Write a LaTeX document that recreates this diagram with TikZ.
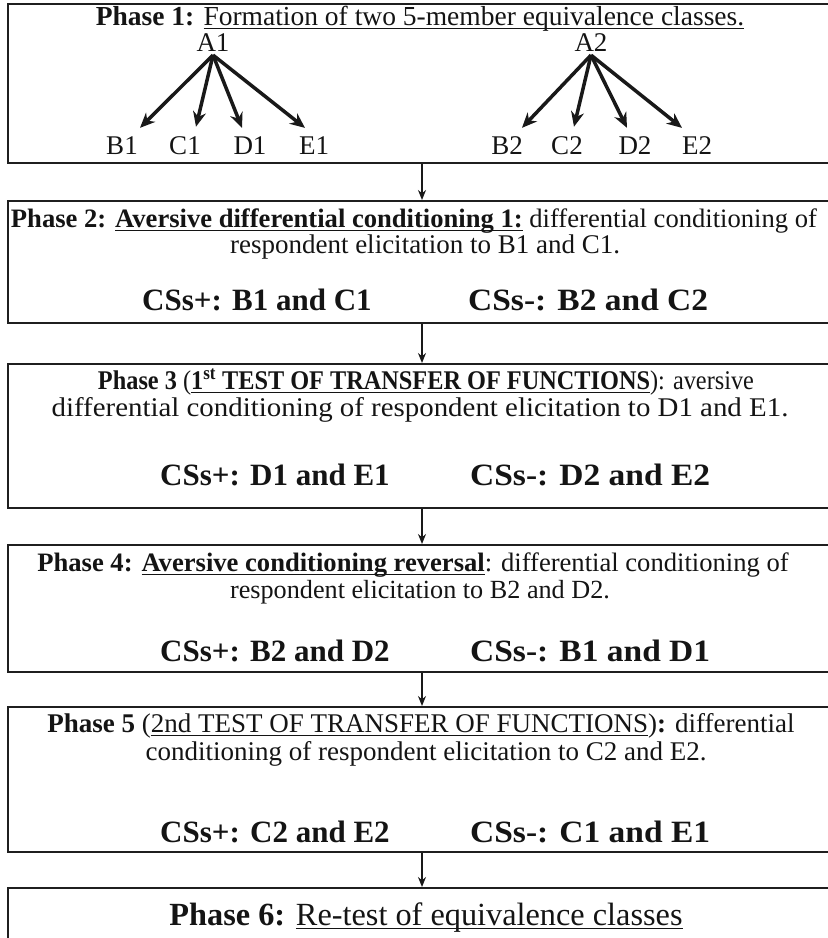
\documentclass[tikz,border=0pt]{standalone}
\usepackage{fontspec}
\usepackage{graphicx}
\setmainfont{Liberation Serif}
\usetikzlibrary{arrows.meta,calc}
\newcommand{\bodyfs}{\fontsize{27}{25}\selectfont}
\newcommand{\csfs}{\fontsize{31}{31}\selectfont\bfseries}
\newcommand{\sixfs}{\fontsize{32.3}{32}\selectfont}
\newcommand{\myul}[1]{\setbox0\hbox{#1}\rlap{\vrule height -2.6pt depth 4.4pt width \wd0}\box0}
\newcommand{\wider}[1]{\scalebox{1.08}[1]{#1}}
\begin{document}
\begin{tikzpicture}[x=1pt,y=-1pt,
  box/.style={draw=black!88,line width=2pt,inner sep=0pt,anchor=north west,minimum width=850pt},
  txt/.style={inner sep=0pt,font=\bodyfs,text=black!92},
  lbl/.style={inner sep=3pt,font=\bodyfs,text=black!92},
  cs/.style={inner sep=0pt,font=\csfs,text=black!92,anchor=base west},
  fan/.style={line width=3.5pt,-{Stealth[length=15pt,width=13pt]},black!90},
  conn/.style={line width=2pt,-{Stealth[length=10pt,width=8pt]},black!90}]
\useasboundingbox (0,0) rectangle (828,938);
\clip (0,0) rectangle (828,938);
% boxes
\node[box,minimum height=159pt] (box1) at (7,3) {};
\node[box,minimum height=122pt] (box2) at (7,200) {};
\node[box,minimum height=144pt] (box3) at (7,363) {};
\node[box,minimum height=127pt] (box4) at (7,544) {};
\node[box,minimum height=145pt] (box5) at (7,706) {};
\node[box,minimum height=100pt] (box6) at (7,887) {};
% connectors between boxes
\draw[conn] ([xshift=415pt]box1.south west) -- ([xshift=415pt]box2.north west);
\draw[conn] ([xshift=415pt]box2.south west) -- ([xshift=415pt]box3.north west);
\draw[conn] ([xshift=415pt]box3.south west) -- ([xshift=415pt]box4.north west);
\draw[conn] ([xshift=415pt]box4.south west) -- ([xshift=415pt]box5.north west);
\draw[conn] ([xshift=415pt]box5.south west) -- ([xshift=415pt]box6.north west);
% phase 1
\node[txt,anchor=base,font=\fontsize{27.5}{27}\selectfont] (t1) at (420,25) {\bfseries Phase 1: \mdseries\myul{Formation of two 5-member equivalence classes.}};
\node[lbl] (A1) at (213,43) {A1};
\node[lbl] (A2) at (591,43) {A2};
\node[lbl] (B1) at (122,146) {B1};
\node[lbl] (C1) at (185,146) {C1};
\node[lbl] (D1) at (250,146) {D1};
\node[lbl] (E1) at (314,146) {E1};
\node[lbl] (B2) at (507,146) {B2};
\node[lbl] (C2) at (567,146) {C2};
\node[lbl] (D2) at (635,146) {D2};
\node[lbl] (E2) at (697,146) {E2};
\draw[fan] (A1.south) -- ($(B1.north)+(18,-6)$);
\draw[fan] (A1.south) -- ($(C1.north)+(11,-7)$);
\draw[fan] (A1.south) -- ($(D1.north)+(-8,-6)$);
\draw[fan] (A1.south) -- ($(E1.north)+(-9,-6)$);
\draw[fan] (A2.south) -- ($(B2.north)+(15,-6)$);
\draw[fan] (A2.south) -- ($(C2.north)+(7,-7)$);
\draw[fan] (A2.south) -- ($(D2.north)+(-8,-6)$);
\draw[fan] (A2.south) -- ($(E2.north)+(-15,-6)$);
% phase 2
\node[txt,anchor=base,font=\fontsize{26.6}{26}\selectfont] (t2a) at (414,227) {{\bfseries Phase 2: \myul{Aversive differential conditioning 1:}} differential conditioning of};
\node[txt,anchor=base] (t2b) at (425,253) {respondent elicitation to B1 and C1.};
\node[cs] (c2p) at (142,310) {CSs+: B1 and C1};
\node[cs] (c2m) at (468,310) {\wider{CSs-: B2 and C2}};
% phase 3
\node[txt,anchor=base] (t3a) at (426,389) {\scalebox{0.9}[1]{{\bfseries Phase 3} (\myul{\bfseries 1\textsuperscript{st} TEST OF TRANSFER OF FUNCTIONS}): aversive}};
\node[txt,anchor=base] (t3b) at (420,416) {\scalebox{1.07}[1]{differential conditioning of respondent elicitation to D1 and E1.}};
\node[cs] (c3p) at (160,485) {CSs+: D1 and E1};
\node[cs] (c3m) at (470,485) {\wider{CSs-: D2 and E2}};
% phase 4
\node[txt,anchor=base,font=\fontsize{26.6}{26}\selectfont] (t4a) at (413,571) {{\bfseries Phase 4: \myul{Aversive conditioning reversal}}: differential conditioning of};
\node[txt,anchor=base,font=\fontsize{26.2}{26}\selectfont] (t4b) at (420,598) {respondent elicitation to B2 and D2.};
\node[cs] (c4p) at (160,661) {CSs+: B2 and D2};
\node[cs] (c4m) at (470,661) {\wider{CSs-: B1 and D1}};
% phase 5
\node[txt,anchor=base] (t5a) at (421,732) {{\bfseries Phase 5} (\myul{2nd TEST OF TRANSFER OF FUNCTIONS}){\bfseries :} differential};
\node[txt,anchor=base] (t5b) at (426,760) {conditioning of respondent elicitation to C2 and E2.};
\node[cs] (c5p) at (160,842) {CSs+: C2 and E2};
\node[cs] (c5m) at (470,842) {\wider{CSs-: C1 and E1}};
% phase 6
\node[txt,anchor=base,font=\sixfs] (t6) at (426,925) {{\bfseries Phase 6:} \myul{Re-test of equivalence classes}};
\end{tikzpicture}
\end{document}
